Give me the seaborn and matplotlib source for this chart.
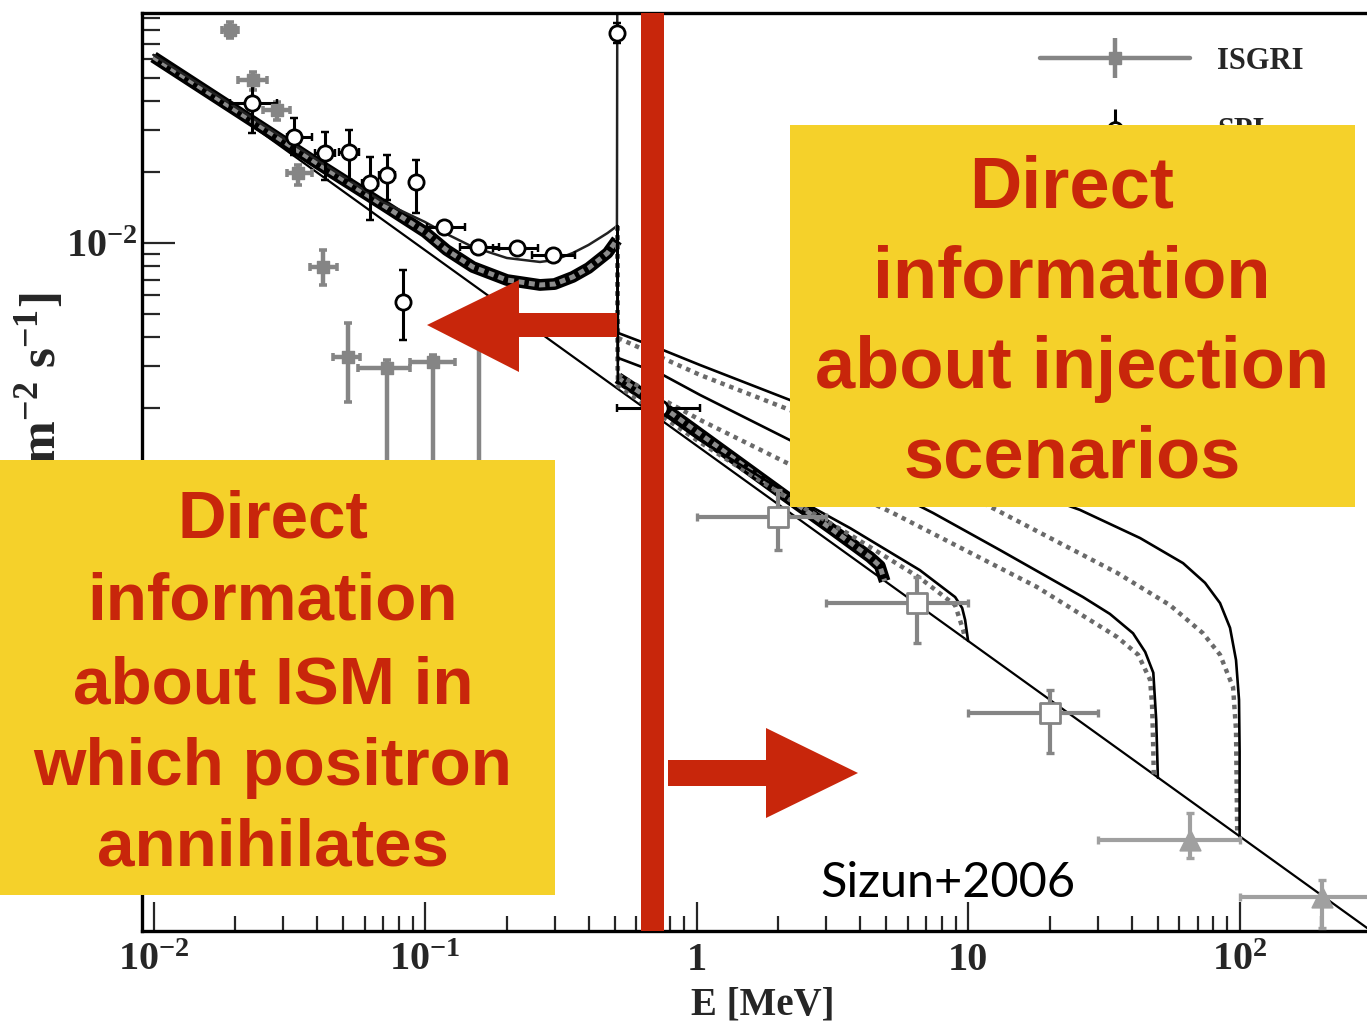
import matplotlib
matplotlib.use("Agg")
import matplotlib.pyplot as plt
import seaborn as sns
import numpy as np
from matplotlib.patches import Rectangle, Polygon
from matplotlib.lines import Line2D
from matplotlib.legend_handler import HandlerTuple
from matplotlib.ticker import LogLocator, NullFormatter, FixedLocator, FixedFormatter

# ---------------- data ----------------
# underlying power-law continuum
BASE_E = [0.01, 330.0]
BASE_F = [0.0627, 1.14e-5]

# positronium continuum part (below 511 keV)
LEFT_E = [0.01, 0.02, 0.04, 0.07, 0.1, 0.12, 0.15, 0.2, 0.265, 0.3, 0.35, 0.4, 0.47, 0.509]
TOP_F = [0.0626, 0.0377, 0.0225, 0.0149, 0.01227, 0.01092, 0.00962, 0.00864, 0.00831,
         0.00847, 0.00907, 0.00981, 0.01102, 0.0118]
BAND_F = [0.0614, 0.0366, 0.0218, 0.0145, 0.01113, 0.00934, 0.00791, 0.00697, 0.00664,
          0.00670, 0.00718, 0.00783, 0.00907, 0.01030]
LINE_E = 0.511
LINE_PEAK = 0.2

# in-flight annihilation curves (above 511 keV)
S100_E = [0.513, 0.752, 1.03, 2.21, 5.61, 13.1, 25.8, 43.0, 61.9, 74.6, 84.7, 92.2, 97.0,
          99.5, 100, 100]
S100_F = [4.16e-3, 3.52e-3, 3.04e-3, 2.16e-3, 1.42e-3, 9.8e-4, 7.4e-4, 5.62e-4, 4.4e-4,
          3.63e-4, 2.98e-4, 2.34e-4, 1.71e-4, 1.16e-4, 7.0e-5, 3.05e-5]
D100_E = [0.513, 1.03, 2.21, 10.8, 35.4, 55.4, 73.3, 84.7, 94.6, 97.0, 98.0]
D100_F = [3.96e-3, 2.76e-3, 1.96e-3, 8.15e-4, 4.0e-4, 2.92e-4, 2.22e-4, 1.80e-4, 1.31e-4,
          8.63e-5, 3.11e-5]
S50_E = [0.513, 0.752, 1.03, 2.21, 7.43, 13.1, 26.5, 33.3, 40.5, 44.9, 48.1, 49.3, 50]
S50_F = [3.26e-3, 2.76e-3, 2.27e-3, 1.46e-3, 7.18e-4, 5.0e-4, 3.16e-4, 2.68e-4, 2.22e-4,
         1.85e-4, 1.51e-4, 9.53e-5, 5.42e-5]
D50_E = [0.513, 1.03, 2.15, 5.28, 17.9, 35.4, 42.3, 46.8, 47.6, 48.0, 48.3]
D50_F = [2.76e-3, 1.78e-3, 1.17e-3, 7.18e-4, 3.49e-4, 2.14e-4, 1.80e-4, 1.41e-4, 1.10e-4,
         7.83e-5, 5.58e-5]
S10_E = [0.513, 1.03, 2.21, 3.68, 6.64, 8.96, 9.51, 9.75, 10.0]
S10_F = [2.58e-3, 1.46e-3, 8.55e-4, 6.19e-4, 4.11e-4, 3.16e-4, 2.84e-4, 2.53e-4, 2.06e-4]
D10_E = [0.513, 1.03, 2.21, 3.68, 6.64, 8.96, 9.59, 9.75]
D10_F = [2.48e-3, 1.43e-3, 8.15e-4, 5.80e-4, 3.81e-4, 2.92e-4, 2.29e-4, 2.10e-4]
B5_E = [0.513, 0.7785, 2.15, 3.18, 4.35, 4.73, 4.93]
B5_F = [2.68e-3, 1.96e-3, 8.39e-4, 6.08e-4, 4.67e-4, 4.28e-4, 3.69e-4]

# measurements
ISGRI_E = [0.0191, 0.0233, 0.0285, 0.0340, 0.0421, 0.0520, 0.0724, 0.107, 0.158]
ISGRI_E_LO = [0.0179, 0.0205, 0.0253, 0.0310, 0.0377, 0.0458, 0.0566, 0.0880, 0.145]
ISGRI_E_HI = [0.0205, 0.0262, 0.0318, 0.0384, 0.0473, 0.0576, 0.0880, 0.1288, 0.172]
ISGRI_F = [0.080, 0.0491, 0.0366, 0.0198, 0.00791, 0.00329, 0.00295, 0.00313, 0.0047]
ISGRI_F_LO = [0.074, 0.0445, 0.0332, 0.0176, 0.00664, 0.00212, 1.0e-4, 1.0e-4, 1.0e-4]
ISGRI_F_HI = [0.0865, 0.053, 0.0396, 0.0214, 0.00934, 0.00458, 0.00319, 0.00335, 0.0055]

SPI_E = [0.0230, 0.0330, 0.0428, 0.0524, 0.0627, 0.0723, 0.0829, 0.0927, 0.117, 0.157,
         0.218, 0.296, 0.511, 0.733]
SPI_E_LO = [0.0191, 0.0310, 0.0393, 0.0482, 0.0585, 0.0675, 0.0829, 0.0927, 0.1015, 0.1345,
            0.178, 0.248, 0.511, 0.509]
SPI_E_HI = [0.0285, 0.0384, 0.0466, 0.0571, 0.0672, 0.0774, 0.0829, 0.0927, 0.140, 0.188,
            0.260, 0.356, 0.511, 1.03]
SPI_F = [0.0392, 0.0281, 0.0240, 0.0243, 0.0180, 0.0194, 0.00562, 0.0181, 0.0117, 0.00962,
         0.00952, 0.00890, 0.0776, 0.0020]
SPI_F_LO = [0.0292, 0.0236, 0.0185, 0.0185, 0.01252, 0.0152, 0.00388, 0.0134, 0.0112, 0.0092,
            0.0090, 0.0084, 0.0704, 0.00124]
SPI_F_HI = [0.0491, 0.0339, 0.0295, 0.0301, 0.0231, 0.0236, 0.00769, 0.0225, 0.0123, 0.0101,
            0.0101, 0.0094, 0.0855, 0.0027]

COMPTEL_E = [2.0, 6.5, 20.0]
COMPTEL_E_LO = [1.0, 3.0, 10.0]
COMPTEL_E_HI = [3.0, 10.0, 30.0]
COMPTEL_F = [6.9e-4, 2.98e-4, 1.02e-4]
COMPTEL_F_LO = [5.0e-4, 2.02e-4, 6.9e-5]
COMPTEL_F_HI = [8.97e-4, 3.85e-4, 1.28e-4]

EGRET_E = [65.6, 201.0]
EGRET_E_LO = [30.0, 100.0]
EGRET_E_HI = [100.0, 600.0]
EGRET_F = [2.95e-5, 1.69e-5]
EGRET_F_LO = [2.48e-5, 1.25e-5]
EGRET_F_HI = [3.85e-5, 2.0e-5]

LEGEND_LABELS = ["ISGRI", "SPI"]
X_TICKS = [0.01, 0.1, 1, 10, 100]
X_LABELS = ["10$^{-2}$", "10$^{-1}$", "1", "10", "10$^{2}$"]
Y_TICKS = [1e-5, 1e-4, 1e-3, 1e-2]
Y_LABELS = ["", "", "", "10$^{-2}$"]
X_LABEL = "E [MeV]"
Y_LABEL = "F [MeV cm$^{-2}$ s$^{-1}$]"

RIGHT_LINES = ["Direct", "information", "about injection", "scenarios"]
LEFT_LINES = ["Direct", "information", "about ISM in", "which positron", "annihilates"]
CREDIT = "Sizun+2006"

# ---------------- style ----------------
sns.set_theme(style="ticks")
plt.rcParams["font.family"] = ["Liberation Serif", "DejaVu Serif"]
plt.rcParams["mathtext.fontset"] = "custom"
plt.rcParams["mathtext.rm"] = "Liberation Serif:bold"
plt.rcParams["mathtext.bf"] = "Liberation Serif:bold"
plt.rcParams["mathtext.it"] = "Liberation Serif:italic:bold"

GRAY = "#858585"
DOT = "#6a6a6a"
RED = "#C8260B"
YELLOW = "#F5D12A"

W, H = 1367, 1036
fig = plt.figure(figsize=(W / 100, H / 100), dpi=100)
fig.patch.set_facecolor("white")
ax_l, ax_r, ax_t, ax_b = 141.5, 1380.0, 13.0, 930.7
ax = fig.add_axes([ax_l / W, 1 - ax_b / H, (ax_r - ax_l) / W, (ax_b - ax_t) / H])
ax.set_xscale("log")
ax.set_yscale("log")
ax.set_xlim(0.00903, 328.9)
ax.set_ylim(1.219e-5, 0.0943)
ax.set_facecolor("white")


def curve(E, F, **kw):
    sns.lineplot(x=E, y=F, ax=ax, sort=False, estimator=None, legend=False, **kw)


HATCH = dict(color="#8c8c8c", lw=3.6, zorder=2.1, linestyle=(0, (1.2, 0.9)))

# base continuum
curve(BASE_E, BASE_F, color="black", lw=1.6, zorder=2)

# thick hatched band (left)
curve(LEFT_E, BAND_F, color="black", lw=8.5, zorder=2, solid_capstyle="butt")
curve(LEFT_E, BAND_F, **HATCH)
# top solid curve with the 511 keV line
curve(LEFT_E + [LINE_E], TOP_F + [LINE_PEAK], color="#222222", lw=1.8, zorder=2.2)

start_F = TOP_F[-1]
# thick group (lowest injection energy)
curve(B5_E, B5_F, color="black", lw=8.5, zorder=2, solid_capstyle="butt")
curve(B5_E, B5_F, **HATCH)
for E, F in [(S100_E, S100_F), (S50_E, S50_F), (S10_E, S10_F)]:
    curve([LINE_E] + E, [start_F] + F, color="black", lw=1.9, zorder=2.3)
for E, F in [(D100_E, D100_F), (D50_E, D50_F), (D10_E, D10_F)]:
    curve([LINE_E] + E, [start_F] + F, color=DOT, lw=3.2, zorder=2.2, linestyle=(0, (1.0, 1.1)))


# measurements
def bars(E, Elo, Ehi, F, Flo, Fhi, color, lw):
    E, Elo, Ehi = np.array(E), np.array(Elo), np.array(Ehi)
    F, Flo, Fhi = np.array(F), np.array(Flo), np.array(Fhi)
    ax.errorbar(E, F, xerr=[E - Elo, Ehi - E], yerr=[F - Flo, Fhi - F], fmt="none",
                ecolor=color, elinewidth=lw, capsize=3, capthick=lw * 0.8, zorder=4)


bars(ISGRI_E, ISGRI_E_LO, ISGRI_E_HI, ISGRI_F, ISGRI_F_LO, ISGRI_F_HI, GRAY, 3.2)
sns.scatterplot(x=ISGRI_E, y=ISGRI_F, ax=ax, marker="s", s=70, color=GRAY, edgecolor=GRAY,
                linewidth=1, zorder=5, legend=False)
bars(SPI_E, SPI_E_LO, SPI_E_HI, SPI_F, SPI_F_LO, SPI_F_HI, "black", 2.2)
sns.scatterplot(x=SPI_E, y=SPI_F, ax=ax, marker="o", s=120, facecolor="white",
                edgecolor="black", linewidth=2, zorder=5, legend=False)
bars(COMPTEL_E, COMPTEL_E_LO, COMPTEL_E_HI, COMPTEL_F, COMPTEL_F_LO, COMPTEL_F_HI, GRAY, 3.0)
sns.scatterplot(x=COMPTEL_E, y=COMPTEL_F, ax=ax, marker="s", s=190, facecolor="white",
                edgecolor=GRAY, linewidth=2, zorder=5, legend=False)
bars(EGRET_E, EGRET_E_LO, EGRET_E_HI, EGRET_F, EGRET_F_LO, EGRET_F_HI, "#a0a0a0", 3.0)
sns.scatterplot(x=EGRET_E, y=EGRET_F, ax=ax, marker="^", s=220, color="#a0a0a0",
                edgecolor="#a0a0a0", zorder=5, legend=False)

# axes styling
for side in ["left", "bottom", "top"]:
    ax.spines[side].set_linewidth(2.4)
    ax.spines[side].set_color("black")
ax.spines["right"].set_visible(False)
ax.xaxis.set_major_locator(FixedLocator(X_TICKS))
ax.xaxis.set_major_formatter(FixedFormatter(X_LABELS))
ax.xaxis.set_minor_locator(LogLocator(base=10, subs=range(2, 10), numticks=50))
ax.xaxis.set_minor_formatter(NullFormatter())
ax.yaxis.set_major_locator(FixedLocator(Y_TICKS))
ax.yaxis.set_major_formatter(FixedFormatter(Y_LABELS))
ax.yaxis.set_minor_locator(LogLocator(base=10, subs=range(2, 10), numticks=50))
ax.yaxis.set_minor_formatter(NullFormatter())
ax.tick_params(axis="x", which="major", direction="in", length=21, width=1.6, pad=8,
               labelsize=29, top=False)
ax.tick_params(axis="x", which="minor", direction="in", length=11, width=1.6, top=False)
ax.tick_params(axis="y", which="major", direction="in", length=24, width=1.6, pad=3,
               labelsize=29, right=False)
ax.tick_params(axis="y", which="minor", direction="in", length=13, width=1.6, right=False)
for lab in ax.get_xticklabels() + ax.get_yticklabels():
    lab.set_fontweight("bold")

ax.set_xlabel(X_LABEL, fontsize=28, fontweight="bold")
ax.xaxis.set_label_coords((763 - ax_l) / (ax_r - ax_l), -(987 - ax_b) / (ax_b - ax_t))
fig.text(40 / W, 1 - 293 / H, Y_LABEL, rotation=90, ha="center", va="top",
         fontsize=37, fontweight="bold")

# legend (mostly hidden by the annotation box, as in the reference)
h_isgri = (Line2D([], [], color=GRAY, lw=3.2),
           Line2D([], [], ls="none", marker="|", ms=29, mew=3.2, color=GRAY),
           Line2D([], [], ls="none", marker="s", ms=8, color=GRAY))
h_spi = (Line2D([], [], ls="none", marker="|", ms=29, mew=2.2, color="black"),
         Line2D([], [], ls="none", marker="o", ms=10, mfc="white", mec="black", mew=2))
ax.legend([h_isgri, h_spi], LEGEND_LABELS,
          handler_map={tuple: HandlerTuple(ndivide=1)}, numpoints=1,
          loc="upper left", bbox_to_anchor=(1040 / W, 1 - 47 / H), bbox_transform=fig.transFigure,
          frameon=False, prop={"family": "Liberation Serif", "weight": "bold", "size": 22},
          handlelength=4.9, handletextpad=0.9, labelspacing=1.35, borderpad=0, borderaxespad=0)

# ---------------- annotation overlay (pixel coordinates) ----------------
ov = fig.add_axes([0, 0, 1, 1], zorder=10)
ov.set_xlim(0, W)
ov.set_ylim(H, 0)
ov.axis("off")
ov.patch.set_alpha(0)

ov.add_patch(Rectangle((641, ax_t), 23, ax_b - ax_t, color=RED, lw=0))
ov.add_patch(Polygon([(617, 313), (519, 313), (519, 280), (427, 325), (519, 372), (519, 337),
                      (617, 337)], closed=True, color=RED, lw=0))
ov.add_patch(Polygon([(668, 760), (766, 760), (766, 728), (858, 773), (766, 818), (766, 786),
                      (668, 786)], closed=True, color=RED, lw=0))
ov.add_patch(Rectangle((790, 125), 565, 382, color=YELLOW, lw=0))
ov.add_patch(Rectangle((0, 460), 555, 435, color=YELLOW, lw=0))

tfont = dict(family=["Liberation Sans", "DejaVu Sans"], weight="bold", color=RED,
             ha="center", va="baseline")
for txt, yb in zip(RIGHT_LINES, [208, 298, 388, 478]):
    ov.text(1072, yb, txt, fontsize=52, **tfont)
for txt, yb in zip(LEFT_LINES, [537, 620, 703, 785, 866]):
    ov.text(273, yb, txt, fontsize=48.5, **tfont)
ov.text(948, 897, CREDIT, fontsize=35, family=["Lato", "DejaVu Sans"], weight="normal",
        color="black", ha="center", va="baseline")

fig.savefig("out.png", dpi=100)
